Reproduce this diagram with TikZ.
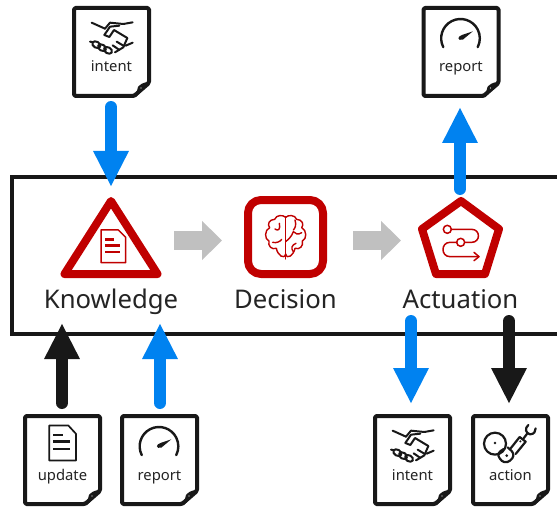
\documentclass[tikz,border=0pt]{standalone}
\usepackage{fontspec}
\setmainfont{Noto Sans}
\usetikzlibrary{arrows.meta}
\definecolor{ebred}{HTML}{C00000}
\definecolor{ebblue}{HTML}{0082F0}
\definecolor{ebblack}{HTML}{181818}
\definecolor{ebgray}{HTML}{C0C0C0}
\definecolor{ebtext}{HTML}{242424}
\tikzset{
  sheet/.style={draw=ebblack,fill=white,line width=4pt,rounded corners=1.5pt,line join=round},
  sheetlabel/.style={inner sep=0pt,anchor=base,text=ebtext,font=\fontsize{14.8}{16}\selectfont},
  mainlabel/.style={inner sep=0pt,anchor=base,text=ebtext,font=\fontsize{25.7}{28}\selectfont},
  fat/.style={line width=12pt,line cap=round,-{Triangle[width=33pt,length=36pt]}},
  bluefat/.style={fat,draw=ebblue,color=ebblue},
  blackfat/.style={fat,draw=ebblack,color=ebblack},
  flowarrow/.style={line width=19pt,draw=ebgray,color=ebgray,-{Triangle[width=38pt,length=20pt]}},
  redshape/.style={draw=ebred,line width=8pt,line join=round,fill=white},
  icon/.style={x=1pt,y=1pt,xscale=1/3,yscale=-1/3,line cap=round,line join=round},
}
\newcommand\shakeicon{%
  \begin{scope}[shift={(-12,-6)},icon,line width=2pt,ebblack]
    \draw (95,68)--(135,86);
    \draw (135,86)--(150,68)--(190,72)--(218,67);
    \draw (178,77)--(150,80)--(133,105)--(148,111)--(162,90)--(202,114);
    \draw (202,114)--(196,128)--(190,142)--(165,157);
    \draw (218,128)--(197,137);
    \draw (90,125)--(100,127);
    \draw[rotate around={30:(109,134)}] (109,134) ellipse (13 and 9);
    \draw[rotate around={30:(126,143)}] (126,143) ellipse (13 and 9);
    \draw[rotate around={30:(144,151)}] (144,151) ellipse (13 and 9);
    \draw (158,136)--(177,149);
    \draw (170,125)--(190,137);
  \end{scope}}
\newcommand\gaugeicon{%
  \begin{scope}[shift={(-12,-6)},icon,ebblack]
    \draw[line width=2.4pt] ([shift={(153,115)}]153:58) arc[start angle=153,end angle=387,radius=58];
    \fill (190,94)--(160,104) .. controls (142,108) and (143,124) .. (160,119)--cycle;
  \end{scope}}
\newcommand\pageicon{%
  \begin{scope}[shift={(-8,-8.5)},icon,ebblack]
    \draw[line width=1.7pt] (103,60)--(160,60)--(183,85)--(183,165)--(103,165)--cycle;
    \draw[line width=2.2pt,line cap=butt] (115,88)--(143,88) (115,108)--(165,108) (115,130)--(165,130);
  \end{scope}}
\newcommand\roboticon{%
  \begin{scope}[shift={(-106,-9)},icon,ebblack,line width=2.2pt]
    \draw (390,116) circle (33);
    \fill (390,114) circle (4);
    \draw (416,132) .. controls (400,140) and (396,150) .. (404,160) .. controls (412,173) and (424,175) .. (435,167) .. controls (447,158) and (448,147) .. (440,138) -- (428,127);
    \fill (425,152) circle (4.5);
    \draw (437,130)--(464,96)--(482,110)--(452,147);
    \fill (466,109) circle (3.5);
    \draw (476,100)--(488,84);
    \draw (490,60) .. controls (478,70) and (482,85) .. (495,88) .. controls (508,88) and (512,78) .. (512,70);
  \end{scope}}
\newcommand\docsheet[5]{%
  \begin{scope}[shift={(#2,#3)}]
    \draw[sheet] (2,2)--(77,2)--(77,77)--(62,90)--(2,90)--cycle;
    \fill[ebblack] (78,76) .. controls (70,76) and (68,79) .. (66,81) .. controls (65,85) and (64,89) .. (60,92) -- (64,91) -- cycle;
    \fill[white] (69,82) circle (.7);
    #5
    \node[sheetlabel] (#1) at (39.5,66) {#4};
  \end{scope}}
\begin{document}
\begin{tikzpicture}[x=1pt,y=-1pt]
\useasboundingbox (0,0) rectangle (557,508);
\clip (0,0) rectangle (557,508);
\fill[white] (0,0) rectangle (557,508);
% frame
\draw[draw=ebblack,line width=3.5pt] (12,177) rectangle (570,334);
% end points
\coordinate (knowtop) at (111,187);
\coordinate (knowlowa) at (62,323);
\coordinate (knowlowb) at (160,323);
\coordinate (acttop) at (460,189);
\coordinate (actup) at (460,107);
\coordinate (actlowa) at (411,321);
\coordinate (actlowb) at (509,321);
\coordinate (intentin) at (111,107);
\coordinate (updatein) at (62,403);
\coordinate (reportin) at (160,403);
\coordinate (intentout) at (411,404);
\coordinate (actionout) at (509,404);
% documents
\docsheet{dIntentTop}{72}{6}{intent}{\shakeicon}
\docsheet{dReportTop}{421.5}{6}{report}{\gaugeicon}
\docsheet{dUpdate}{23}{414}{update}{\pageicon}
\docsheet{dReportLow}{120}{414}{report}{\gaugeicon}
\docsheet{dIntentLow}{373}{414}{intent}{\shakeicon}
\docsheet{dAction}{471}{414}{action}{\roboticon}
% shapes
\draw[redshape] (111,201)--(157.5,274)--(64.5,274)--cycle;
\begin{scope}[shift={(40,180)},icon,ebred]
  \draw[line width=1.5pt] (183,150)--(235,150)--(257,172)--(257,248)--(183,248)--cycle;
  \draw[line width=2.4pt,line cap=butt] (195,178)--(222,178) (195,197)--(240,197) (195,216)--(240,216);
\end{scope}
\draw[redshape,rounded corners=13pt] (248,200) rectangle (323,274);
\begin{scope}[shift={(40,180)},icon,ebred,line width=1.4pt]
  \draw (737,110)--(737,237);
  \foreach \s in {1,-1}{
   \begin{scope}[shift={(737,0)},xscale=\s]
    \draw (0,112) .. controls (-8,104) and (-28,104) .. (-33,118)
       .. controls (-50,118) and (-56,134) .. (-48,143)
       .. controls (-64,150) and (-64,178) .. (-50,183)
       .. controls (-54,198) and (-42,210) .. (-28,205)
       .. controls (-24,226) and (-4,240) .. (0,222);
   \end{scope}}
  \draw (705,147)..controls (715,155) and (722,148)..(718,130);
  \draw (698,187)..controls (710,190) and (720,185)..(725,178);
  \draw (737,185)..controls (745,178) and (755,170)..(760,155) ..controls (765,162) and (775,165)..(785,158);
  \draw (765,120)..controls (770,135) and (765,145)..(760,150);
  \draw (760,215)..controls (752,205) and (755,195)..(768,190);
\end{scope}
\draw[redshape] (461,201)--(499,229)--(485,274)--(436,274)--(422,229)--cycle;
\begin{scope}[shift={(390,190)},icon,ebred,line width=1.5pt]
  \draw (172,118) circle (12);
  \draw (212,157) circle (12);
  \draw (184,118)--(245,118) .. controls (272,118) and (272,157) .. (245,157)--(224,157);
  \draw (200,157)--(180,157) .. controls (152,157) and (152,200) .. (180,200)--(266,200);
  \draw (252,187)--(267,200)--(252,212);
\end{scope}
% main labels
\node[mainlabel] (knowledge) at (111,308) {Knowledge};
\node[mainlabel] (decision) at (285.5,308) {Decision};
\node[mainlabel] (actuation) at (460.5,308) {Actuation};
% flow arrows
\coordinate (f1a) at (174,240.5); \coordinate (f1b) at (222,240.5);
\coordinate (f2a) at (353,240.5); \coordinate (f2b) at (401,240.5);
\draw[flowarrow] (f1a)--(f1b);
\draw[flowarrow] (f2a)--(f2b);
% connectors
\draw[bluefat] (intentin)--(knowtop);
\draw[blackfat] (updatein)--(knowlowa);
\draw[bluefat] (reportin)--(knowlowb);
\draw[bluefat] (acttop)--(actup);
\draw[bluefat] (actlowa)--(intentout);
\draw[blackfat] (actlowb)--(actionout);
\end{tikzpicture}
\end{document}
